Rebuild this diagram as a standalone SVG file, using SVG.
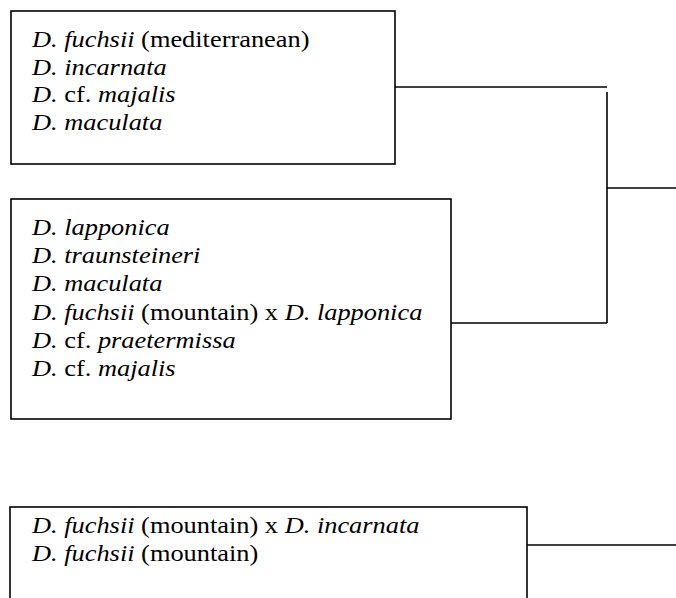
<svg xmlns="http://www.w3.org/2000/svg" width="676" height="598" viewBox="0 0 676 598">
<style>
.box{fill:#fff;stroke:#000;stroke-width:1.6}
.ln{fill:none;stroke:#000;stroke-width:1.6}
text{font-family:"Liberation Serif","Times New Roman",serif;font-size:23px;fill:#000}
.i{font-style:italic}
</style>
<rect width="676" height="598" fill="#fff"/>
<g id="connectors">
<path class="ln" d="M395,87 H607"/>
<path class="ln" d="M607,92 V323"/>
<path class="ln" d="M607,188 H676"/>
<path class="ln" d="M451,323 H607"/>
<path class="ln" d="M527,545 H676"/>
</g>
<g id="node1">
<rect class="box" x="11" y="11" width="384" height="153"/>
<g transform="translate(32,0) scale(1.147,1)">
<text y="47"><tspan class="i">D. fuchsii</tspan> (mediterranean)</text>
<text y="74.7"><tspan class="i">D. incarnata</tspan></text>
<text y="102.4"><tspan class="i">D.</tspan> cf. <tspan class="i">majalis</tspan></text>
<text y="130"><tspan class="i">D. maculata</tspan></text>
</g>
</g>
<g id="node2">
<rect class="box" x="11" y="199" width="440" height="220"/>
<g transform="translate(32,0) scale(1.147,1)">
<text y="235"><tspan class="i">D. lapponica</tspan></text>
<text y="263.2"><tspan class="i">D. traunsteineri</tspan></text>
<text y="291.4"><tspan class="i">D. maculata</tspan></text>
<text y="319.6"><tspan class="i">D. fuchsii</tspan> (mountain) x <tspan class="i">D. lapponica</tspan></text>
<text y="347.8"><tspan class="i">D.</tspan> cf. <tspan class="i">praetermissa</tspan></text>
<text y="376"><tspan class="i">D.</tspan> cf. <tspan class="i">majalis</tspan></text>
</g>
</g>
<g id="node3">
<rect class="box" x="10" y="507" width="517" height="120"/>
<g transform="translate(32,0) scale(1.147,1)">
<text y="533"><tspan class="i">D. fuchsii</tspan> (mountain) x <tspan class="i">D. incarnata</tspan></text>
<text y="561"><tspan class="i">D. fuchsii</tspan> (mountain)</text>
</g>
</g>
</svg>
